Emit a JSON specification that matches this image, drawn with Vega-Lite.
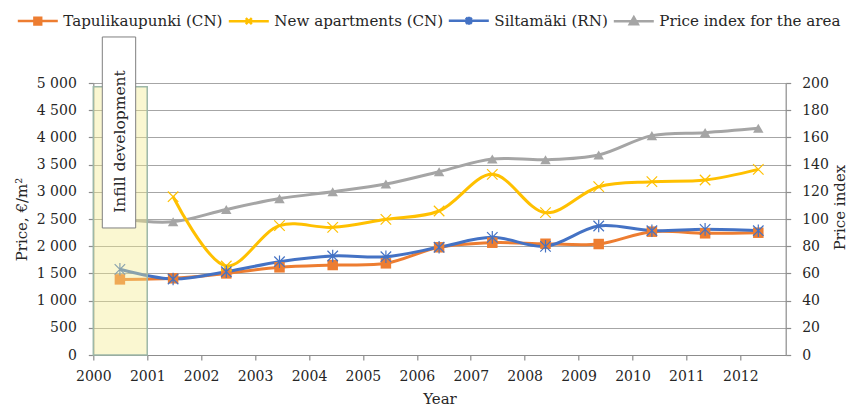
{
  "$schema": "https://vega.github.io/schema/vega-lite/v6.json",
  "autosize": "none",
  "width": 692.4,
  "height": 272,
  "padding": {"left": 93.3, "top": 83, "right": 65.3, "bottom": 57},
  "background": "white",
  "config": {
    "view": {"stroke": null},
    "font": "DejaVu Serif",
    "axis": {"labelFont": "DejaVu Serif", "titleFont": "DejaVu Serif", "labelFontSize": 14, "titleFontSize": 15, "titleFontWeight": "normal", "labelColor": "#262626", "titleColor": "#262626", "domainColor": "#8c8c8c", "tickColor": "#8c8c8c", "tickSize": 5, "domainWidth": 1.2, "tickWidth": 1.2, "labelFlush": false, "labelOverlap": false},
    "legend": {"labelFont": "DejaVu Serif", "labelFontSize": 15.1, "labelColor": "#262626", "labelLimit": 0}
  },
  "datasets": {
    "series": [
      {"year": 2000, "series": "Tapulikaupunki (CN)", "value": 1390},
      {"year": 2001, "series": "Tapulikaupunki (CN)", "value": 1410},
      {"year": 2002, "series": "Tapulikaupunki (CN)", "value": 1500},
      {"year": 2003, "series": "Tapulikaupunki (CN)", "value": 1612},
      {"year": 2004, "series": "Tapulikaupunki (CN)", "value": 1654},
      {"year": 2005, "series": "Tapulikaupunki (CN)", "value": 1685},
      {"year": 2006, "series": "Tapulikaupunki (CN)", "value": 1980},
      {"year": 2007, "series": "Tapulikaupunki (CN)", "value": 2064},
      {"year": 2008, "series": "Tapulikaupunki (CN)", "value": 2045},
      {"year": 2009, "series": "Tapulikaupunki (CN)", "value": 2040},
      {"year": 2010, "series": "Tapulikaupunki (CN)", "value": 2267},
      {"year": 2011, "series": "Tapulikaupunki (CN)", "value": 2237},
      {"year": 2012, "series": "Tapulikaupunki (CN)", "value": 2248},
      {"year": 2001, "series": "New apartments (CN)", "value": 2910},
      {"year": 2002, "series": "New apartments (CN)", "value": 1636},
      {"year": 2003, "series": "New apartments (CN)", "value": 2377},
      {"year": 2004, "series": "New apartments (CN)", "value": 2347},
      {"year": 2005, "series": "New apartments (CN)", "value": 2494},
      {"year": 2006, "series": "New apartments (CN)", "value": 2647},
      {"year": 2007, "series": "New apartments (CN)", "value": 3321},
      {"year": 2008, "series": "New apartments (CN)", "value": 2616},
      {"year": 2009, "series": "New apartments (CN)", "value": 3094},
      {"year": 2010, "series": "New apartments (CN)", "value": 3186},
      {"year": 2011, "series": "New apartments (CN)", "value": 3217},
      {"year": 2012, "series": "New apartments (CN)", "value": 3413},
      {"year": 2000, "series": "Siltamäki (RN)", "value": 1575},
      {"year": 2001, "series": "Siltamäki (RN)", "value": 1397},
      {"year": 2002, "series": "Siltamäki (RN)", "value": 1531},
      {"year": 2003, "series": "Siltamäki (RN)", "value": 1715},
      {"year": 2004, "series": "Siltamäki (RN)", "value": 1820},
      {"year": 2005, "series": "Siltamäki (RN)", "value": 1807},
      {"year": 2006, "series": "Siltamäki (RN)", "value": 1980},
      {"year": 2007, "series": "Siltamäki (RN)", "value": 2163},
      {"year": 2008, "series": "Siltamäki (RN)", "value": 1998},
      {"year": 2009, "series": "Siltamäki (RN)", "value": 2371},
      {"year": 2010, "series": "Siltamäki (RN)", "value": 2285},
      {"year": 2011, "series": "Siltamäki (RN)", "value": 2310},
      {"year": 2012, "series": "Siltamäki (RN)", "value": 2285},
      {"year": 2000, "series": "Price index for the area", "value": 100},
      {"year": 2001, "series": "Price index for the area", "value": 98},
      {"year": 2002, "series": "Price index for the area", "value": 107},
      {"year": 2003, "series": "Price index for the area", "value": 115},
      {"year": 2004, "series": "Price index for the area", "value": 120},
      {"year": 2005, "series": "Price index for the area", "value": 125.7},
      {"year": 2006, "series": "Price index for the area", "value": 134.8},
      {"year": 2007, "series": "Price index for the area", "value": 144.1},
      {"year": 2008, "series": "Price index for the area", "value": 143.6},
      {"year": 2009, "series": "Price index for the area", "value": 147.1},
      {"year": 2010, "series": "Price index for the area", "value": 161.3},
      {"year": 2011, "series": "Price index for the area", "value": 163.5},
      {"year": 2012, "series": "Price index for the area", "value": 166.7}
    ],
    "periods": [
      {"label": "Infill development", "start": 2000, "end": 2001}
    ]
  },
  "resolve": {"scale": {"x": "independent", "y": "independent"}},
  "layer": [
    {
      "data": {"name": "series"},
      "transform": [{"filter": "datum.series == 'Price index for the area'"}],
      "mark": {"type": "line", "interpolate": "catmull-rom", "strokeWidth": 3},
      "encoding": {
        "x": {"field": "year", "type": "quantitative", "scale": {"domain": [1999.5, 2012.515], "nice": false, "zero": false}, "axis": null},
        "y": {"field": "value", "type": "quantitative", "scale": {"domain": [0, 200], "nice": false}, "axis": {"orient": "right", "title": "Price index", "values": [0, 20, 40, 60, 80, 100, 120, 140, 160, 180, 200], "grid": false, "labelPadding": 11, "titleAngle": 270, "titleX": 59, "titleY": 124, "titleAlign": "center", "titleBaseline": "alphabetic"}},
        "color": {"field": "series", "type": "nominal", "scale": {"domain": ["Tapulikaupunki (CN)", "New apartments (CN)", "Siltamäki (RN)", "Price index for the area"], "range": ["#ed7d31", "#ffc000", "#4472c4", "#a5a5a5"]},
          "legend": {"orient": "none", "legendX": -77, "legendY": -84, "direction": "horizontal", "columns": 4, "title": null, "padding": 0, "symbolSize": 1600, "symbolStrokeWidth": 2.5, "labelOffset": 4, "columnPadding": 0,
            "encode": {"symbols": {"update": {
              "shape": {"signal": "datum.value == 'Tapulikaupunki (CN)' ? 'M-1,0H1M-0.17,-0.17H0.17V0.17H-0.17Z' : datum.value == 'New apartments (CN)' ? 'M-1,0H1M-0.15,-0.15L0.15,0.15M-0.15,0.15L0.15,-0.15' : datum.value == 'Siltamäki (RN)' ? 'M-1,0H1M-0.15,-0.15L0.15,0.15M-0.15,0.15L0.15,-0.15M0,-0.2V0.2' : 'M-1,0H1M0,-0.2L0.2,0.15H-0.2Z'"},
              "fill": {"scale": "color", "field": "value"},
              "stroke": {"scale": "color", "field": "value"},
              "strokeWidth": {"value": 2.5},
              "opacity": {"value": 1}
            }}}}}
      }
    },
    {
      "data": {"name": "series"},
      "transform": [{"filter": "datum.series == 'Price index for the area'"}],
      "mark": {"type": "point", "shape": "triangle-up", "filled": true, "size": 110, "opacity": 1},
      "encoding": {
        "x": {"field": "year", "type": "quantitative", "scale": {"domain": [1999.5, 2012.515], "nice": false, "zero": false}, "axis": null},
        "y": {"field": "value", "type": "quantitative", "scale": {"domain": [0, 200], "nice": false}, "axis": null},
        "color": {"field": "series", "type": "nominal", "scale": {"domain": ["Tapulikaupunki (CN)", "New apartments (CN)", "Siltamäki (RN)", "Price index for the area"], "range": ["#ed7d31", "#ffc000", "#4472c4", "#a5a5a5"]}}
      }
    },
    {
      "data": {"name": "series"},
      "transform": [{"filter": "datum.series != 'Price index for the area'"}],
      "mark": {"type": "line", "interpolate": "catmull-rom", "strokeWidth": 3},
      "encoding": {
        "x": {"field": "year", "type": "quantitative", "scale": {"domain": [1999.5, 2012.515], "nice": false, "zero": false}, "axis": null},
        "y": {"field": "value", "type": "quantitative", "scale": {"domain": [0, 5000], "nice": false}, "axis": null},
        "color": {"field": "series", "type": "nominal", "scale": {"domain": ["Tapulikaupunki (CN)", "New apartments (CN)", "Siltamäki (RN)", "Price index for the area"], "range": ["#ed7d31", "#ffc000", "#4472c4", "#a5a5a5"]}},
        "order": {"field": "year", "type": "quantitative"}
      }
    },
    {
      "data": {"name": "series"},
      "transform": [{"filter": "datum.series == 'Tapulikaupunki (CN)'"}],
      "mark": {"type": "point", "shape": "square", "filled": true, "size": 110, "opacity": 1},
      "encoding": {
        "x": {"field": "year", "type": "quantitative", "scale": {"domain": [1999.5, 2012.515], "nice": false, "zero": false}, "axis": null},
        "y": {"field": "value", "type": "quantitative", "scale": {"domain": [0, 5000], "nice": false}, "axis": null},
        "color": {"field": "series", "type": "nominal", "scale": {"domain": ["Tapulikaupunki (CN)", "New apartments (CN)", "Siltamäki (RN)", "Price index for the area"], "range": ["#ed7d31", "#ffc000", "#4472c4", "#a5a5a5"]}}
      }
    },
    {
      "data": {"name": "series"},
      "transform": [{"filter": "datum.series == 'New apartments (CN)'"}],
      "mark": {"type": "point", "shape": "M-1,-1L1,1M-1,1L1,-1", "filled": false, "size": 110, "strokeWidth": 1.2, "opacity": 1},
      "encoding": {
        "x": {"field": "year", "type": "quantitative", "scale": {"domain": [1999.5, 2012.515], "nice": false, "zero": false}, "axis": null},
        "y": {"field": "value", "type": "quantitative", "scale": {"domain": [0, 5000], "nice": false}, "axis": null},
        "color": {"field": "series", "type": "nominal", "scale": {"domain": ["Tapulikaupunki (CN)", "New apartments (CN)", "Siltamäki (RN)", "Price index for the area"], "range": ["#ed7d31", "#ffc000", "#4472c4", "#a5a5a5"]}}
      }
    },
    {
      "data": {"name": "series"},
      "transform": [{"filter": "datum.series == 'Siltamäki (RN)'"}],
      "mark": {"type": "point", "shape": "M-1,-1L1,1M-1,1L1,-1M0,-1.2V1.2", "filled": false, "size": 110, "strokeWidth": 1.2, "opacity": 1},
      "encoding": {
        "x": {"field": "year", "type": "quantitative", "scale": {"domain": [1999.5, 2012.515], "nice": false, "zero": false}, "axis": null},
        "y": {"field": "value", "type": "quantitative", "scale": {"domain": [0, 5000], "nice": false}, "axis": null},
        "color": {"field": "series", "type": "nominal", "scale": {"domain": ["Tapulikaupunki (CN)", "New apartments (CN)", "Siltamäki (RN)", "Price index for the area"], "range": ["#ed7d31", "#ffc000", "#4472c4", "#a5a5a5"]}}
      }
    },
    {
      "data": {"name": "periods"},
      "mark": {"type": "rect", "fill": "#f2eb8c", "fillOpacity": 0.4, "stroke": "#9db8a8", "strokeWidth": 1.5},
      "encoding": {
        "x": {"field": "start", "type": "quantitative", "scale": {"domain": [2000, 2012.841], "nice": false, "zero": false}, "axis": {"orient": "bottom", "title": "Year", "values": [2000, 2001, 2002, 2003, 2004, 2005, 2006, 2007, 2008, 2009, 2010, 2011, 2012], "format": "d", "labelPadding": 9, "titlePadding": 8, "grid": false}},
        "x2": {"field": "end"},
        "y": {"datum": 0, "type": "quantitative", "scale": {"domain": [0, 5000], "nice": false}, "axis": {"orient": "left", "title": "Price, €/m²", "values": [0, 500, 1000, 1500, 2000, 2500, 3000, 3500, 4000, 4500, 5000], "labelExpr": "replace(format(datum.value, ','), ',', ' ')", "grid": true, "gridColor": "#a6a6a6", "gridWidth": 1.2, "labelPadding": 12, "titlePadding": 7}},
        "y2": {"datum": 4930}
      }
    },
    {
      "data": {"name": "periods"},
      "mark": {"type": "rect", "fill": "white", "stroke": "#7f7f7f", "strokeWidth": 1},
      "encoding": {
        "x": {"datum": 2000.167, "type": "quantitative", "scale": {"domain": [2000, 2012.841], "nice": false, "zero": false}, "axis": null},
        "x2": {"datum": 2000.786},
        "y": {"datum": 2335, "type": "quantitative", "scale": {"domain": [0, 5000], "nice": false}, "axis": null},
        "y2": {"datum": 5846}
      }
    },
    {
      "data": {"name": "periods"},
      "mark": {"type": "text", "angle": 270, "font": "DejaVu Serif", "fontSize": 15.5, "color": "#262626", "align": "center", "baseline": "middle"},
      "encoding": {
        "text": {"field": "label"},
        "x": {"datum": 2000.5, "type": "quantitative", "scale": {"domain": [2000, 2012.841], "nice": false, "zero": false}, "axis": null},
        "y": {"datum": 3925, "type": "quantitative", "scale": {"domain": [0, 5000], "nice": false}, "axis": null}
      }
    }
  ]
}
